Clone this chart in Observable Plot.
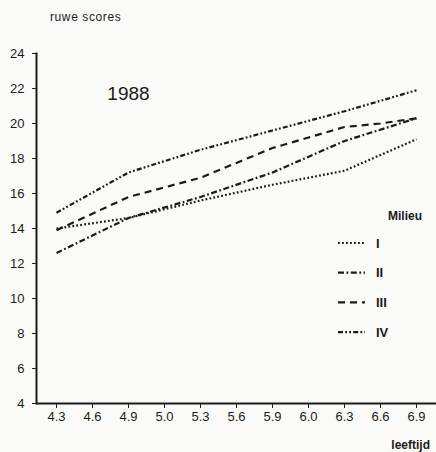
<!DOCTYPE html>
<html>
<head>
<meta charset="utf-8">
<script src="https://cdn.jsdelivr.net/npm/d3@7"></script>
<script src="https://cdn.jsdelivr.net/npm/@observablehq/plot@0.6"></script>
<style>
  html, body { margin: 0; padding: 0; background: #fafaf8; }
  #chart { width: 436px; height: 452px; position: relative; }
</style>
</head>
<body>
<div id="chart"></div>
<script>
// categories (leeftijd)
const ages = ["4.3","4.6","4.9","5.0","5.3","5.6","5.9","6.0","6.3","6.6","6.9"];
const yTicks = [4,6,8,10,12,14,16,18,20,22,24];
const milieus = ["I","II","III","IV"];

// series values (ruwe scores), at the ages where each line bends
const agesI   = ["4.3","4.9","5.3","5.9","6.3","6.9"];
const valuesI = [14.0, 14.6, 15.6, 16.5, 17.3, 19.1];
const agesII   = ["4.3","4.9","5.3","5.9","6.3","6.9"];
const valuesII = [12.6, 14.6, 15.8, 17.2, 19.0, 20.3];
const agesIII   = ["4.3","4.9","5.3","5.9","6.3","6.6","6.9"];
const valuesIII = [13.9, 15.8, 16.9, 18.6, 19.8, 20.0, 20.3];
const agesIV   = ["4.3","4.9","5.3","5.9","6.3","6.9"];
const valuesIV = [14.9, 17.2, 18.5, 19.6, 20.7, 21.9];

const seriesAges = [agesI, agesII, agesIII, agesIV];
const seriesValues = [valuesI, valuesII, valuesIII, valuesIV];
const dashes = ["1.8 2.2", "6 2.5 1.8 2.5", "7 5", "5 2.2 1.8 2.2 1.8 2.2"];
const ink = "#1a1a1a";
const fontFam = "'Liberation Sans', Arial, sans-serif";

const series = milieus.map((m, i) => seriesAges[i].map((a, j) => ({milieu: m, age: a, score: seriesValues[i][j]})));

const plot = Plot.plot({
  width: 436,
  height: 452,
  marginLeft: 36,
  marginRight: 0,
  marginTop: 53,
  marginBottom: 49,
  style: {background: "#fafaf8", fontFamily: fontFam, fontSize: "13px", color: ink},
  x: {type: "point", domain: ages, padding: 0.5, label: null},
  y: {domain: [4, 24], ticks: yTicks, label: null},
  marks: [
    Plot.axisX({tickSize: 5, tickPadding: 3, fontSize: 13, label: null, stroke: ink}),
    Plot.axisY({ticks: yTicks, tickSize: 4, tickPadding: 8, fontSize: 13, label: null, stroke: ink}),
    Plot.ruleY([4], {stroke: ink, strokeWidth: 2}),
    Plot.frame({anchor: "left", stroke: ink, strokeWidth: 2}),
    ...series.map((d, i) => Plot.line(d, {x: "age", y: "score", stroke: ink, strokeWidth: 2.2, strokeLinecap: "butt", strokeDasharray: dashes[i]})),
    Plot.text(["1988"], {x: () => "4.9", y: () => 21.7, text: d => d, fontSize: 19, fill: ink})
  ]
});
document.getElementById("chart").appendChild(plot);

const svg = d3.select(plot);
// y-axis title
svg.append("text").attr("x", 50).attr("y", 21).attr("text-anchor", "start").attr("font-size", 12)
  .attr("font-family", fontFam).attr("fill", ink).attr("letter-spacing", 0.6).text("ruwe scores");
// x-axis title
svg.append("text").attr("x", 430).attr("y", 449).attr("text-anchor", "end").attr("font-size", 12).attr("font-weight", "bold")
  .attr("font-family", fontFam).attr("fill", ink).text("leeftijd");
// legend
const lg = svg.append("g").attr("font-family", fontFam).attr("fill", ink);
lg.append("text").attr("x", 422).attr("y", 220).attr("text-anchor", "end").attr("font-size", 12).attr("font-weight", "bold").text("Milieu");
milieus.forEach((m, i) => {
  const y = 243 + i * 29.7;
  lg.append("line").attr("x1", 338).attr("x2", 365).attr("y1", y).attr("y2", y)
    .attr("stroke", ink).attr("stroke-width", 2.2).attr("stroke-dasharray", dashes[i]);
  lg.append("text").attr("x", 376).attr("y", y + 4.5).attr("text-anchor", "start").attr("font-size", 13).attr("font-weight", "bold").text(m);
});
</script>
</body>
</html>
